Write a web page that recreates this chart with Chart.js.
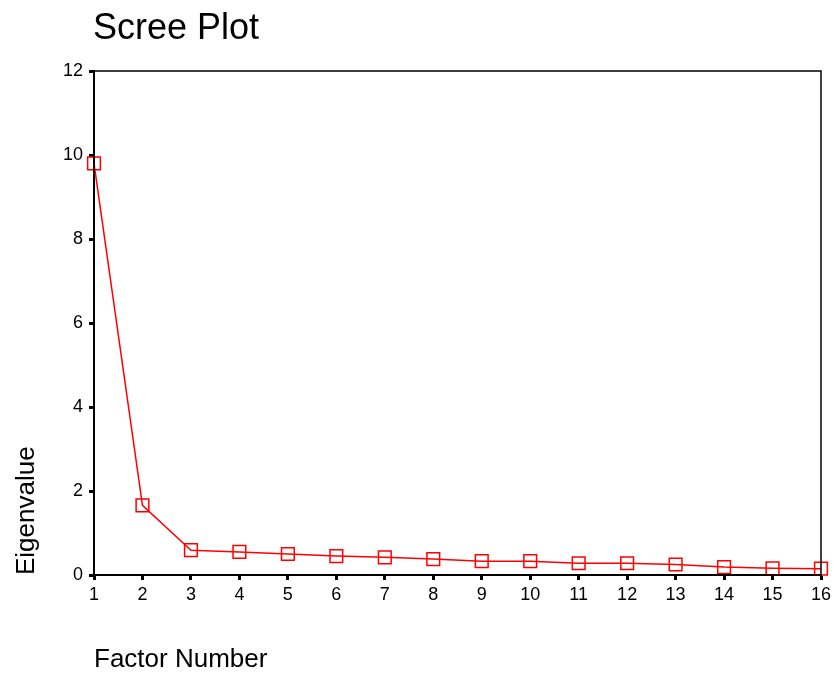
<!DOCTYPE html>
<html>
<head>
<meta charset="utf-8">
<script src="https://cdn.jsdelivr.net/npm/chart.js@4"></script>
<style>
  html, body { margin: 0; padding: 0; background: #fff; }
  #wrap { width: 837px; height: 675px; }
</style>
</head>
<body>
<div id="wrap"><canvas id="scree"></canvas></div>
<script>
// factor numbers and their eigenvalues
const factors = ['1', '2', '3', '4', '5', '6', '7', '8', '9', '10', '11', '12', '13', '14', '15', '16'];
const eigenvalues = [9.80, 1.66, 0.59, 0.55, 0.50, 0.45, 0.42, 0.38, 0.33, 0.33, 0.28, 0.28, 0.25, 0.19, 0.16, 0.15];
const yTicks = [0, 2, 4, 6, 8, 10, 12];

const FONT = '"Liberation Sans", Arial, sans-serif';

// frame round the plot area plus the left aligned title
const framePlugin = {
    id: 'frame',
    afterDraw(chart) {
        const { ctx, chartArea } = chart;
        ctx.save();
        ctx.strokeStyle = '#000';
        ctx.lineWidth = 1.5;
        ctx.strokeRect(chartArea.left, chartArea.top, chartArea.right - chartArea.left, chartArea.bottom - chartArea.top);
        ctx.fillStyle = '#000';
        ctx.font = '36px ' + FONT;
        ctx.textBaseline = 'alphabetic';
        ctx.textAlign = 'left';
        ctx.fillText('Scree Plot', chartArea.left - 1, 39);
        ctx.restore();
    }
};

new Chart(document.getElementById('scree'), {
    type: 'line',
    data: {
        labels: factors,
        datasets: [{
            data: eigenvalues,
            borderColor: '#ff0000',
            borderWidth: 1.5,
            backgroundColor: 'rgba(0,0,0,0)',
            pointStyle: 'rect',
            pointRadius: 9,
            pointBorderWidth: 1.5,
            pointBorderColor: '#ff0000',
            pointBackgroundColor: 'rgba(0,0,0,0)',
            tension: 0,
            clip: false
        }]
    },
    options: {
        responsive: true,
        maintainAspectRatio: false,
        animation: false,
        layout: { padding: { top: 71, right: 16, left: 0, bottom: 0 } },
        plugins: {
            legend: { display: false },
            tooltip: { enabled: false },
            title: { display: false }
        },
        scales: {
            x: {
                type: 'category',
                offset: false,
                grid: { drawOnChartArea: false, tickLength: 5, tickWidth: 3, color: '#000' },
                border: { display: true, color: '#000', width: 2 },
                ticks: { color: '#000', font: { family: FONT, size: 18 }, padding: 4, maxRotation: 0, autoSkip: false },
                title: {
                    display: true, text: 'Factor Number', align: 'start', color: '#000',
                    font: { family: FONT, size: 26 }, padding: { top: 36, bottom: 0 }
                },
                afterFit(scale) { scale.height = 100; }
            },
            y: {
                min: 0,
                max: 12,
                afterBuildTicks(scale) { scale.ticks = yTicks.map(v => ({ value: v })); },
                grid: { drawOnChartArea: false, tickLength: 5, tickWidth: 3, color: '#000' },
                border: { display: true, color: '#000', width: 2 },
                ticks: { color: '#000', font: { family: FONT, size: 18 }, padding: 6 },
                title: {
                    display: true, text: 'Eigenvalue', align: 'start', color: '#000',
                    font: { family: FONT, size: 26 }, padding: { top: 11, bottom: 10 }
                },
                afterFit(scale) { scale.width = 94; }
            }
        }
    },
    plugins: [framePlugin]
});
</script>
</body>
</html>
